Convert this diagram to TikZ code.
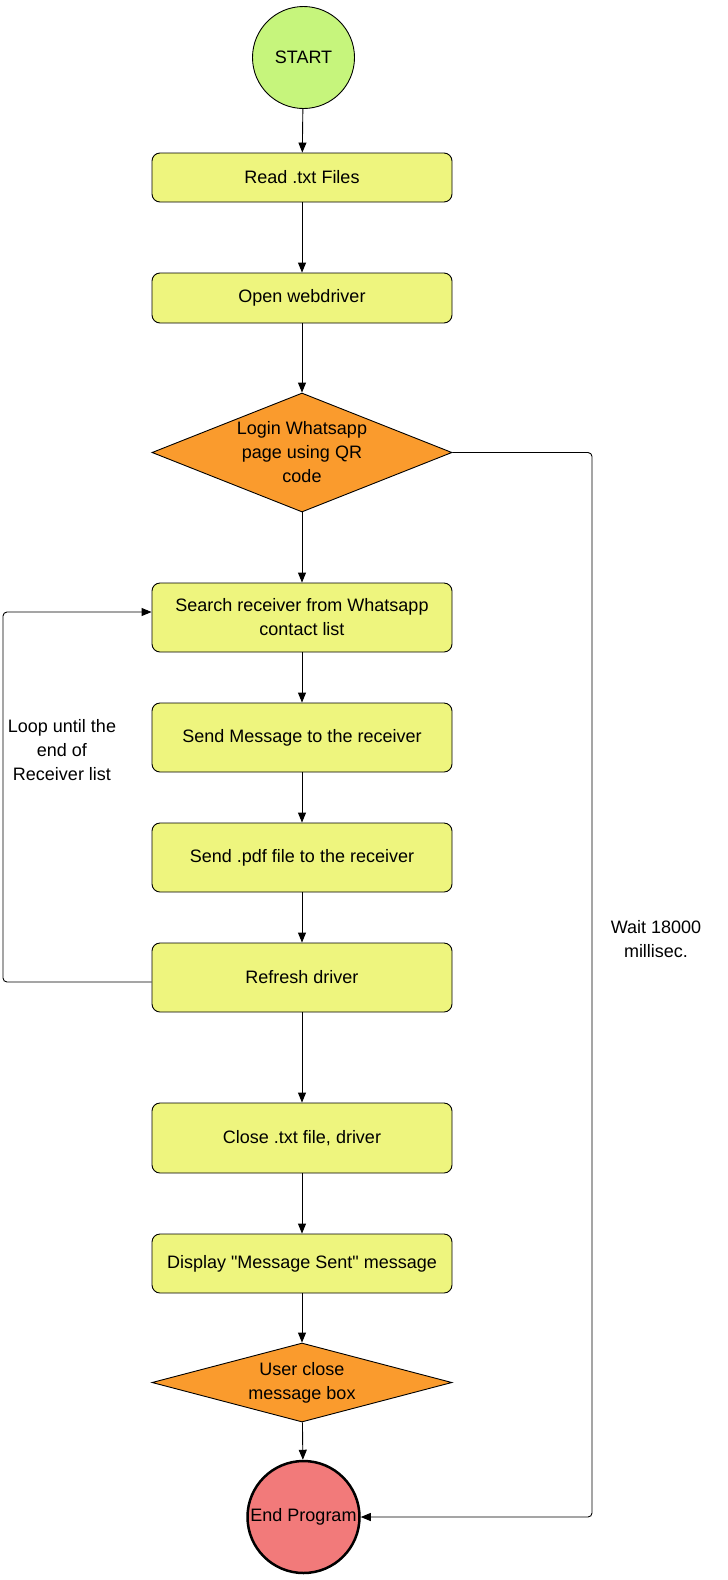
\documentclass[tikz,border=0pt]{standalone}
\usepackage{fontspec}
\setmainfont{Liberation Sans}[Ligatures=TeXOff]
\usetikzlibrary{shapes.geometric,arrows.meta}
\definecolor{boxfill}{RGB}{238,245,126}
\definecolor{startfill}{RGB}{198,245,124}
\definecolor{askfill}{RGB}{250,155,45}
\definecolor{endfill}{RGB}{242,122,122}

\begin{document}
\begin{tikzpicture}[x=1pt,y=-1pt,line width=0.9pt,
    font=\fontsize{18}{24}\selectfont,
    >={Triangle[length=10pt,width=8pt]},
    box/.style={draw,rounded corners=8pt,fill=boxfill,
      minimum width=300pt,minimum height=69pt,align=center},
    ask/.style={draw,diamond,fill=askfill,aspect=2.5,inner sep=0pt,
      minimum width=300pt,align=center}]
  \useasboundingbox (0,0) rectangle (728,1580);
  \node(start) at (303.5,57.5) [draw,circle,fill=startfill,
       minimum size=102pt,inner sep=0pt] {START};
  \node(read) at (302,177.5) [box,minimum height=49pt] {Read .txt Files};
  \node(open) at (302,298) [box,minimum height=50pt] {Open webdriver};
  \node(login) at (302,452.5) [ask,minimum height=119pt]
       {Login Whatsapp\\page using QR\\code};
  \node(search) at (302,617.5) [box]
       {Search receiver from Whatsapp\\contact list};
  \node(send) at (302,737.5) [box] {Send Message to the receiver};
  \node(pdf) at (302,857.5) [box] {Send .pdf file to the receiver};
  \node(refresh) at (302,977.5) [box] {Refresh driver};
  \node(close) at (302,1138) [box,minimum height=70pt]
       {Close .txt file, driver};
  \node(display) at (302,1263.5) [box,minimum height=59pt]
       {Display "Message Sent" message};
  \node(user) at (302,1382.5) [ask,aspect=3,minimum height=79pt]
       {User close\\message box};
  \node(stop) at (303.5,1517) [draw,circle,fill=endfill,line width=2.5pt,
       minimum size=112pt,inner sep=0pt] {End Program};
  \coordinate(wait) at (592,0);
  \coordinate(loop) at (3,0);
  \node(waitlbl) at (656,939) [align=center] {Wait 18000\\millisec.};
  \node(looplbl) at (62,750) [align=center]
       {Loop until the\\end of\\Receiver list};
  \draw[->](start) -- (read);
  \draw[->](read) -- (open);
  \draw[->](open) -- (login);
  \draw[->](login) -- (search);
  \draw[->](search) -- (send);
  \draw[->](send) -- (pdf);
  \draw[->](pdf) -- (refresh);
  \draw[->](refresh) -- (close);
  \draw[->](close) -- (display);
  \draw[->](display) -- (user);
  \draw[->](user) -- (stop);
  \draw[->,rounded corners=4pt](login.east) -- (login.east -| wait)
       |- (stop.east);
  \draw[->,rounded corners=4pt]([yshift=-4.5pt]refresh.west)
       -- ([yshift=-4.5pt]refresh.west -| loop)
       |- ([yshift=5.5pt]search.west);
\end{tikzpicture}
\end{document}
